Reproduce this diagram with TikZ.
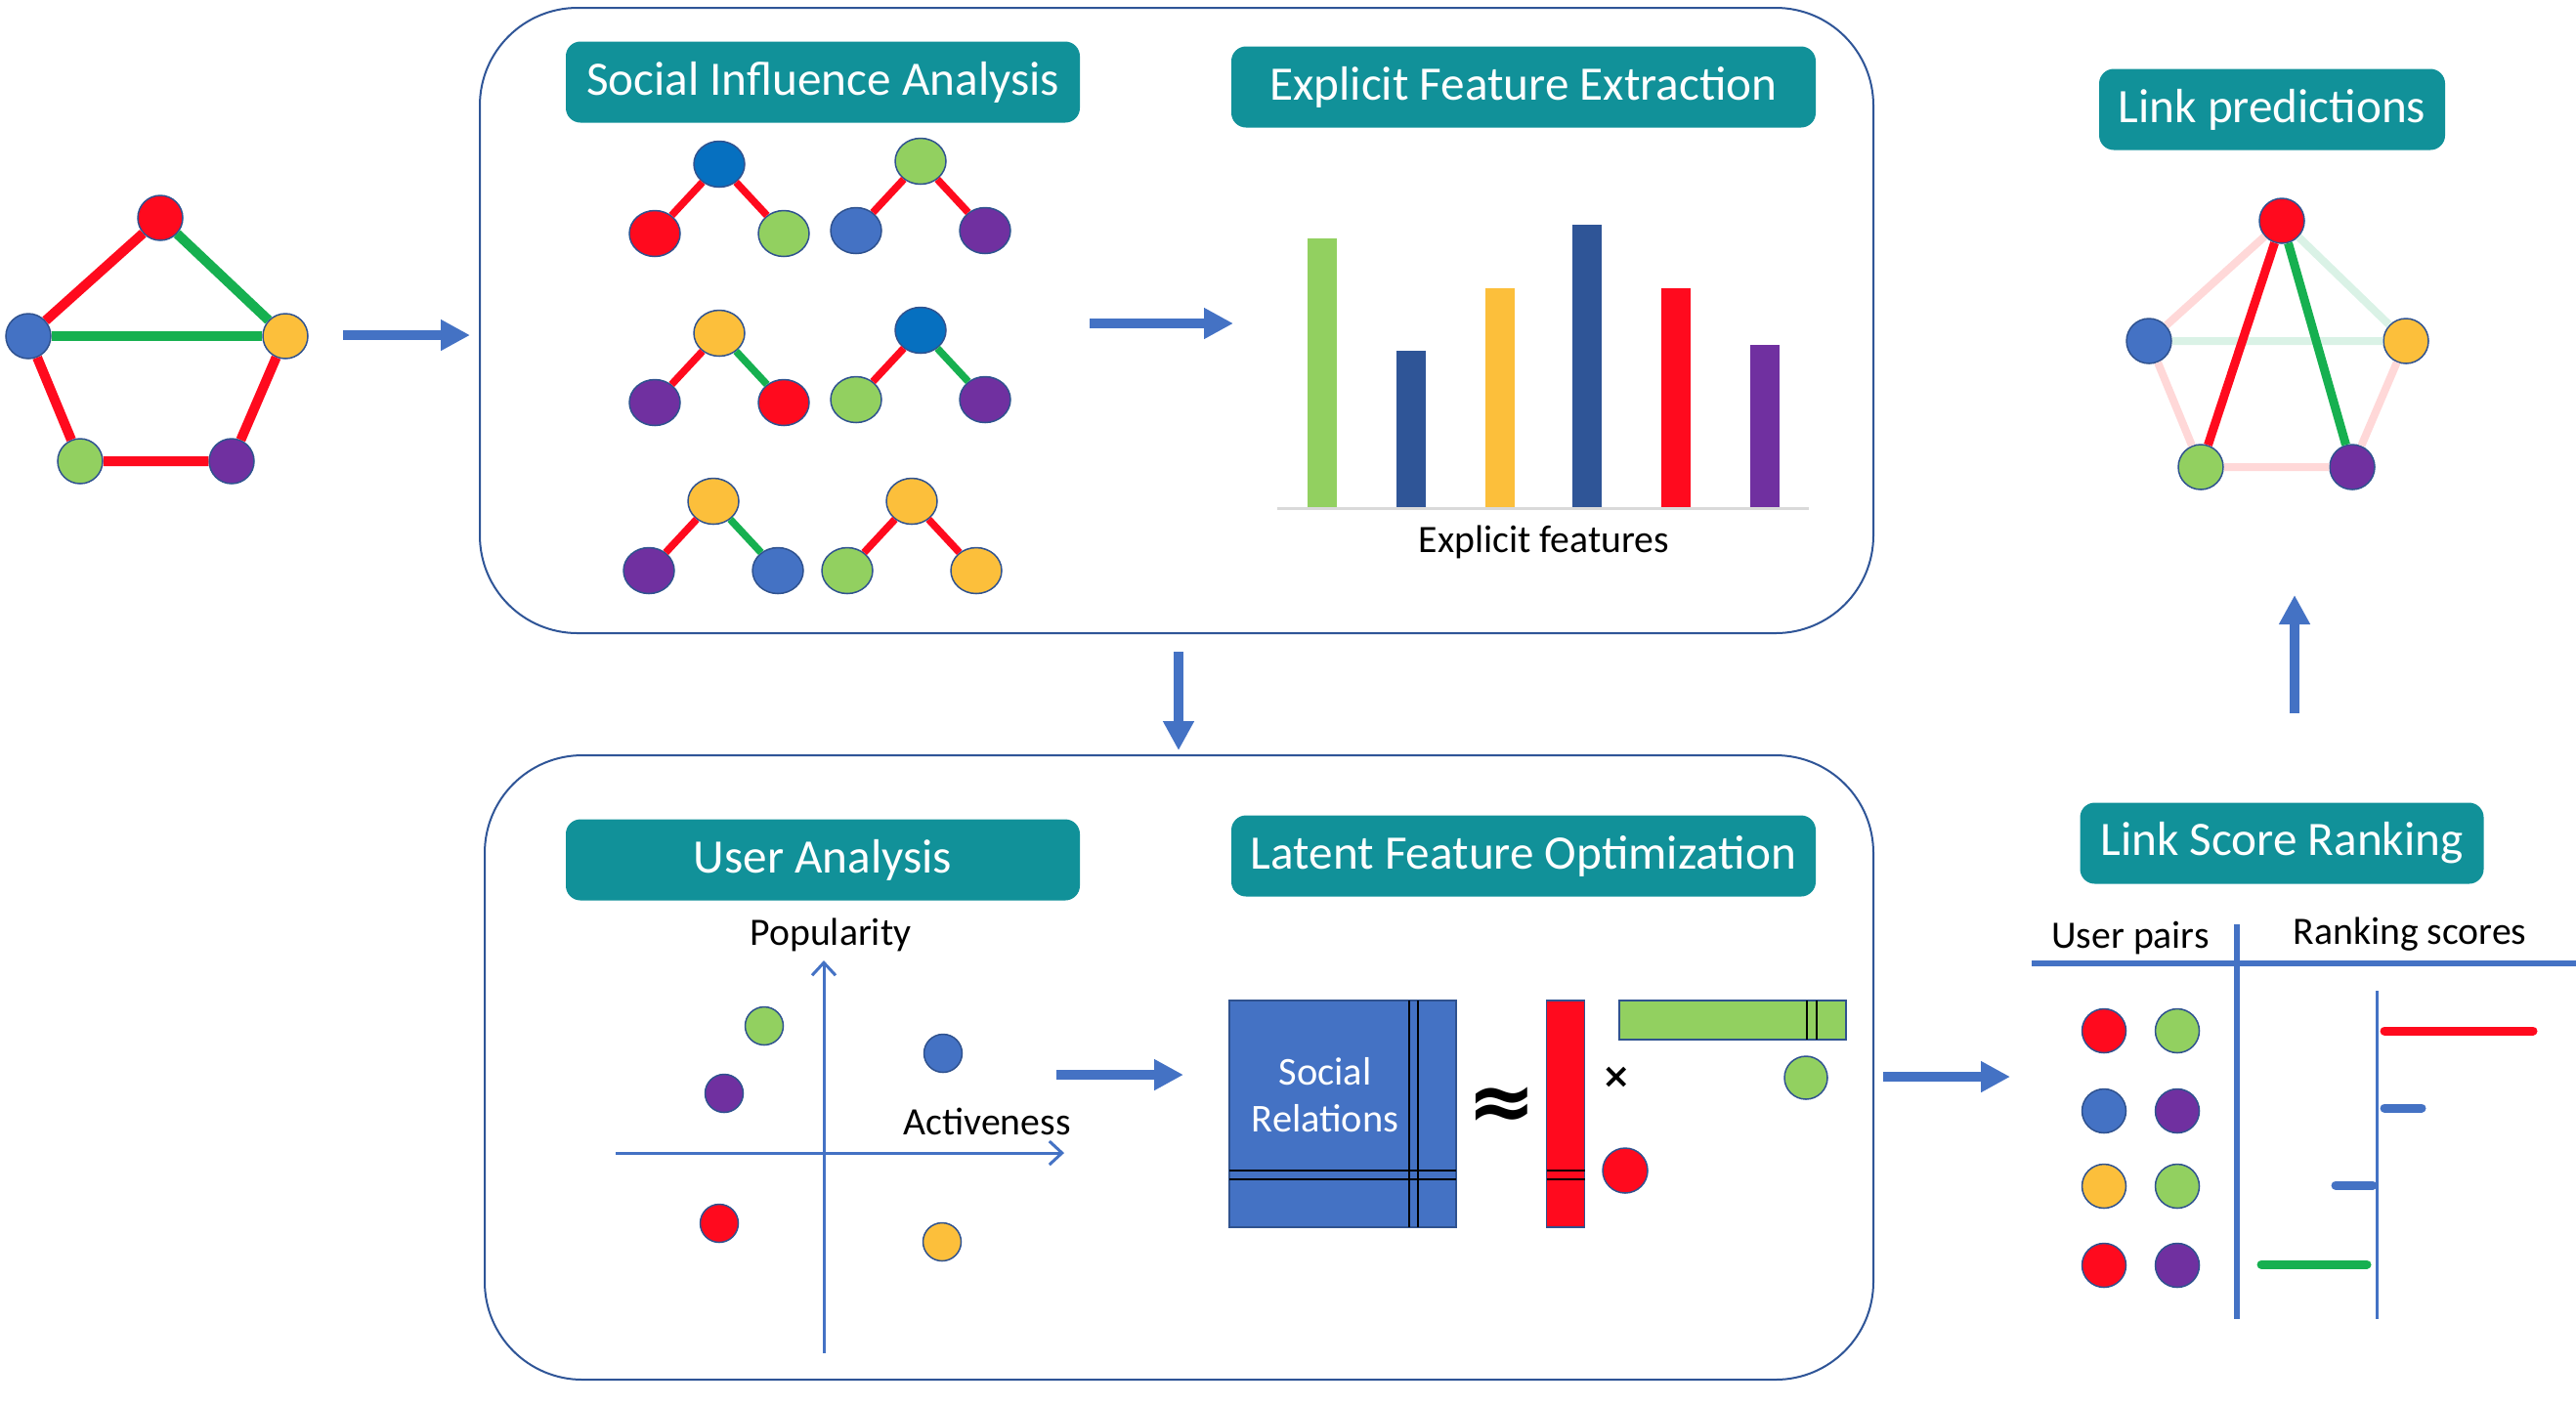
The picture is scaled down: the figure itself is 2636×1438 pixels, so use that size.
\documentclass[tikz,border=0pt]{standalone}
\usepackage{fontspec}
\setmainfont{Carlito}
\newfontfamily\symfont{DejaVu Sans}
\usepackage{tikz}
\usetikzlibrary{arrows.meta, positioning, shapes.geometric}

\definecolor{cred}{RGB}{255,10,30}
\definecolor{cgreen}{RGB}{146,208,96}
\definecolor{cblue}{RGB}{68,114,196}
\definecolor{cdeep}{RGB}{6,112,192}
\definecolor{cyellow}{RGB}{252,191,59}
\definecolor{cpurple}{RGB}{112,48,160}
\definecolor{cnavy}{RGB}{47,85,151}
\definecolor{cedge}{RGB}{22,176,80}
\definecolor{cring}{RGB}{47,82,143}
\definecolor{cteal}{RGB}{17,145,153}
\definecolor{cpink}{RGB}{255,216,216}
\definecolor{cmint}{RGB}{218,242,230}
\definecolor{cgrid}{RGB}{217,217,217}

\tikzset{
	user/.style={circle, draw=cring, line width=0.15mm, fill=#1, inner sep=0pt, minimum size=4.6mm},
	triad/.style={ellipse, draw=cring, line width=0.15mm, fill=#1, inner sep=0pt, minimum width=5.2mm, minimum height=4.7mm},
	title/.style={fill=cteal, rounded corners=1.5mm, text=white, font=\fontsize{14}{17}\selectfont, inner sep=0pt, minimum height=8.3mm},
	panel/.style={draw=cnavy, line width=0.2mm, rounded corners=10mm},
	flow/.style={draw=cblue, line width=1mm, -{Triangle[length=3mm,width=3mm]}},
	tie/.style={line width=1mm, draw=#1},
	lbl/.style={font=\fontsize{11.3}{13.7}\selectfont},
	sym/.style={font=\symfont\bfseries\fontsize{#1}{#1}\selectfont, inner sep=0pt},
	block/.style={draw=cring, line width=0.15mm, fill=#1, inner sep=0pt},
}

\begin{document}
\begin{tikzpicture}[x=0.1mm, y=-0.1mm]
	\useasboundingbox (0,0) rectangle (2636,1438);

	% input network
	\node[user=cred] (gR) at (164,223) {};
	\node[user=cblue] (gB) at (29,344) {};
	\node[user=cyellow] (gY) at (292,344) {};
	\node[user=cgreen] (gG) at (82,472) {};
	\node[user=cpurple] (gP) at (237,472) {};
	\draw[tie=cred] (gR) -- (gB);
	\draw[tie=cedge] (gR) -- (gY);
	\draw[tie=cedge] (gB) -- (gY);
	\draw[tie=cred] (gB) -- (gG) -- (gP) -- (gY);

	\coordinate (in1) at (351,343);
	\coordinate (in2) at (481,343);
	\draw[flow] (in1) -- (in2);

	% upper stage
	\draw[panel] (491,8) rectangle (1917,648);
	\node[title, minimum width=52.6mm] (sia) at (842,84) {Social Influence Analysis};
	\node[title, minimum width=59.8mm] (efe) at (1559,89) {Explicit Feature Extraction};

	\foreach \i/\x/\y/\ct/\cl/\cr/\el/\er in {
		1/736/168/cdeep/cred/cgreen/cred/cred,
		2/942/165/cgreen/cblue/cpurple/cred/cred,
		3/736/341/cyellow/cpurple/cred/cred/cedge,
		4/942/338/cdeep/cgreen/cpurple/cred/cedge,
		5/730/513/cyellow/cpurple/cblue/cred/cedge,
		6/933/513/cyellow/cgreen/cyellow/cred/cred}{
		\node[triad=\ct] (t\i) at (\x,\y) {};
		\node[triad=\cl, on grid, below left=7.1mm and 6.6mm of t\i] (l\i) {};
		\node[triad=\cr, on grid, below right=7.1mm and 6.6mm of t\i] (r\i) {};
		\draw[line width=0.75mm, draw=\el] (t\i) -- (l\i);
		\draw[line width=0.75mm, draw=\er] (t\i) -- (r\i);
	}

	\coordinate (up1) at (1115,331);
	\coordinate (up2) at (1262,331);
	\draw[flow] (up1) -- (up2);

	\foreach \x/\h/\c in {1353/244/cgreen, 1444/359/cnavy, 1535/295/cyellow, 1624/230/cnavy, 1715/295/cred, 1806/353/cpurple}
		\fill[\c] (\x-15,520) rectangle (\x+15,\h);
	\draw[cgrid, line width=0.3mm] (1307,520) -- (1851,520);
	\node[lbl] (xf) at (1580,555) {Explicit features};

	\coordinate (dn1) at (1206,667);
	\coordinate (dn2) at (1206,768);
	\draw[flow] (dn1) -- (dn2);

	% lower stage
	\draw[panel] (496,773) rectangle (1917,1412);
	\node[title, minimum width=52.6mm] (ua) at (842,880) {User Analysis};
	\node[title, minimum width=59.8mm] (lfo) at (1559,876) {Latent Feature Optimization};

	\coordinate (ay0) at (843,1385);
	\coordinate (ay1) at (843,983);
	\coordinate (ax0) at (630,1180);
	\coordinate (ax1) at (1089,1180);
	\draw[cblue, line width=0.3mm, -{Straight Barb[length=1.3mm,width=2.4mm]}] (ay0) -- (ay1);
	\draw[cblue, line width=0.3mm, -{Straight Barb[length=1.3mm,width=2.4mm]}] (ax0) -- (ax1);
	\node[lbl] (pop) at (850,957) {Popularity};
	\node[lbl] (act) at (1010,1148) {Activeness};
	\node[user=cgreen, minimum size=3.9mm] (u1) at (782,1050) {};
	\node[user=cpurple, minimum size=3.9mm] (u2) at (741,1119) {};
	\node[user=cblue, minimum size=3.9mm] (u3) at (965,1078) {};
	\node[user=cred, minimum size=3.9mm] (u4) at (736,1252) {};
	\node[user=cyellow, minimum size=3.9mm] (u5) at (964,1271) {};

	\coordinate (lo1) at (1081,1100);
	\coordinate (lo2) at (1211,1100);
	\draw[flow] (lo1) -- (lo2);

	\node[block=cblue, minimum width=23.2mm, minimum height=23.2mm] (sr) at (1374,1140) {};
	\node[text=white, align=center, font=\fontsize{11.5}{13.7}\selectfont] (srl) at (1356,1121) {Social\\Relations};
	\draw[line width=0.15mm] (1442,1024) -- (1442,1256) (1451,1024) -- (1451,1256);
	\draw[line width=0.15mm] (1258,1198) -- (1490,1198) (1258,1207) -- (1490,1207);
	\node[sym=24] (apx) at (1537,1135) {≈};
	\node[block=cred, minimum width=3.9mm, minimum height=23.2mm] (uf) at (1602,1140) {};
	\draw[line width=0.15mm] (1583,1198) -- (1622,1198) (1583,1207) -- (1622,1207);
	\node[sym=10] (mul) at (1654,1103) {×};
	\node[block=cgreen, minimum width=23.2mm, minimum height=4mm] (vf) at (1773,1044) {};
	\draw[line width=0.15mm] (1849,1024) -- (1849,1064) (1859,1024) -- (1859,1064);
	\node[user=cred] (ur) at (1663,1198) {};
	\node[user=cgreen, minimum size=4.4mm] (vg) at (1848,1103) {};

	\coordinate (rk1) at (1927,1102);
	\coordinate (rk2) at (2057,1102);
	\draw[flow] (rk1) -- (rk2);

	% ranking
	\node[title, minimum width=41.3mm] (lsr) at (2335,863) {Link Score Ranking};
	\node[lbl] (pairs) at (2180,960) {User pairs};
	\node[lbl] (scores) at (2466,956) {Ranking scores};
	\draw[cblue, line width=0.55mm] (2079,986) -- (2636,986);
	\draw[cblue, line width=0.55mm] (2289,946) -- (2289,1350);
	\draw[cblue, line width=0.3mm] (2432,1014) -- (2432,1350);
	\foreach \y/\ca/\cb in {1055/cred/cgreen, 1137/cblue/cpurple, 1214/cyellow/cgreen, 1295/cred/cpurple}{
		\node[user=\ca, minimum size=4.5mm] at (2153,\y) {};
		\node[user=\cb, minimum size=4.5mm] at (2228,\y) {};
	}
	\draw[line cap=round, line width=0.9mm, cred] (2440,1055) -- (2592,1055);
	\draw[line cap=round, line width=0.9mm, cblue] (2440,1134) -- (2478,1134);
	\draw[line cap=round, line width=0.9mm, cblue] (2390,1213) -- (2428,1213);
	\draw[line cap=round, line width=0.9mm, cedge] (2314,1294) -- (2422,1294);

	\coordinate (pr1) at (2348,730);
	\coordinate (pr2) at (2348,609);
	\draw[flow] (pr1) -- (pr2);

	% predicted links
	\node[title, minimum width=35.4mm] (lp) at (2325,112) {Link predictions};
	\node[user=cred] (pR) at (2335,226) {};
	\node[user=cblue] (pB) at (2199,349) {};
	\node[user=cyellow] (pY) at (2462,349) {};
	\node[user=cgreen] (pG) at (2252,478) {};
	\node[user=cpurple] (pP) at (2407,478) {};
	\draw[line width=0.8mm, cpink] (pR) -- (pB) -- (pG) -- (pP) -- (pY);
	\draw[line width=0.8mm, cmint] (pR) -- (pY) -- (pB);
	\draw[line width=0.9mm, cred] (pR) -- (pG);
	\draw[line width=0.9mm, cedge] (pR) -- (pP);
\end{tikzpicture}
\end{document}
